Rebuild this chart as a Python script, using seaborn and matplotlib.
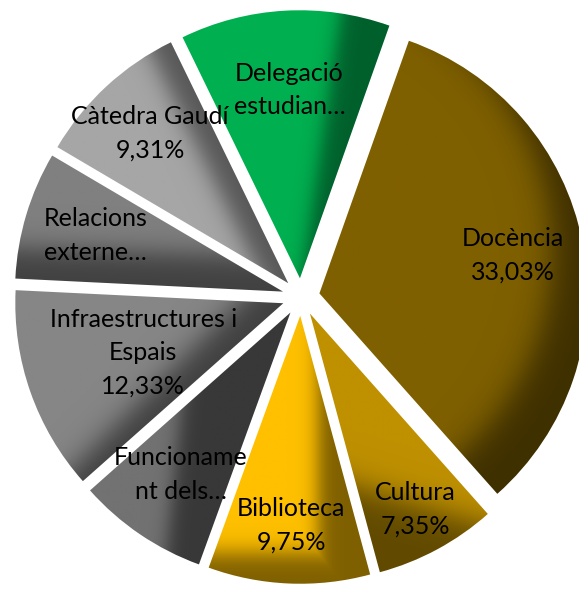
#Pie chart of shares per area, Excel style with shaded, exploded wedges
import numpy as np
import seaborn as sns
from matplotlib import pyplot as plt

#data (percent of answers per area)
categories = ['Docència', 'Cultura', 'Biblioteca', 'Funcionament dels serveis',
              'Infraestructures i Espais', 'Relacions externes', 'Càtedra Gaudí',
              'Delegació estudiants']
label_text = ['Docència', 'Cultura', 'Biblioteca', 'Funcioname\nnt dels…',
              'Infraestructures i\nEspais', 'Relacions\nexterne…', 'Càtedra Gaudí',
              'Delegació\nestudian…']
shares = [33.03, 7.35, 9.75, 7.90, 12.33, 7.70, 9.31, 12.63]
show_pct = [True, True, True, False, True, False, True, False]

#colours: light part and shaded part of every wedge
light_colors = ['#7F6000', '#BF9000', '#FFC000', '#727272', '#868686', '#808080', '#A6A6A6', '#00B050']
dark_colors = ['#3F3000', '#614A00', '#7F6000', '#383838', '#404040', '#414141', '#575757', '#00602C']

#shading per wedge: ('lin', angle, threshold, blur) or ('rad', dx, dy, blur)
shading = [
    [('rad', -0.132, 0.157, 0.035)],
    [('lin', -106.7, 0.617, 0.035)],
    [('lin', 0, 0.063, 0.02), ('lin', -90, 0.955, 0.025)],
    [('lin', -6, -0.40, 0.02)],
    [('lin', -45, -0.15, 0.03)],
    [('lin', -92, -0.147, 0.03)],
    [('lin', 26.2, -0.10, 0.025)],
    [('lin', -8.3, -0.005, 0.02)],
]
label_radius = [0.806, 0.90, 0.854, 0.80, 0.624, 0.80, 0.83, 0.773]

sns.set_theme(style='white')
plt.rcParams['font.family'] = ['Lato', 'DejaVu Sans']

fig = plt.figure(figsize=(5.79, 5.90), dpi=100)
ax = fig.add_axes([0, 0, 1, 1])

wedges, _ = ax.pie(shares, explode=[0.07] * len(shares), startangle=70.5,
                   counterclock=False, radius=1, wedgeprops=dict(linewidth=0))

xlim = (-301 / 268, (579 - 301) / 268)
ylim = (-(590 - 297) / 268, 297 / 268)
X, Y = np.meshgrid(np.linspace(xlim[0], xlim[1], 700), np.linspace(ylim[0], ylim[1], 700))

def sig(v):
    return 1 / (1 + np.exp(-v))

#fill every wedge with its own gradient, clipped to the wedge
for w, lc, dc, spec in zip(wedges, light_colors, dark_colors, shading):
    w.set_alpha(0)
    cx, cy = w.center
    shade = np.zeros_like(X)
    for kind, a, b, blur in spec:
        if kind == 'lin':
            t = np.deg2rad(a)
            proj = X * np.cos(t) + Y * np.sin(t)
            s = sig((proj - b) / blur)
        else:
            d = np.hypot(X - cx - a, Y - cy - b)
            s = sig((d - w.r) / blur)
        shade = np.maximum(shade, s)
    cmap = sns.blend_palette([lc, dc], as_cmap=True)
    im = ax.imshow(shade, cmap=cmap, vmin=0, vmax=1, origin='lower',
                   extent=(xlim[0], xlim[1], ylim[0], ylim[1]),
                   interpolation='bilinear', zorder=1)
    im.set_clip_path(w)

#data labels
for w, txt, v, show, r in zip(wedges, label_text, shares, show_pct, label_radius):
    mid = np.deg2rad((w.theta1 + w.theta2) / 2)
    s = txt
    if show:
        s = txt + '\n' + f'{v:.2f}'.replace('.', ',') + '%'
    ax.text(r * np.cos(mid), r * np.sin(mid), s, ha='center', va='center',
            fontsize=18, color='black', linespacing=1.55, zorder=3)

ax.set_xlim(xlim)
ax.set_ylim(ylim)
ax.set_aspect('auto')
ax.axis('off')

fig.savefig('out.png', dpi=100)
